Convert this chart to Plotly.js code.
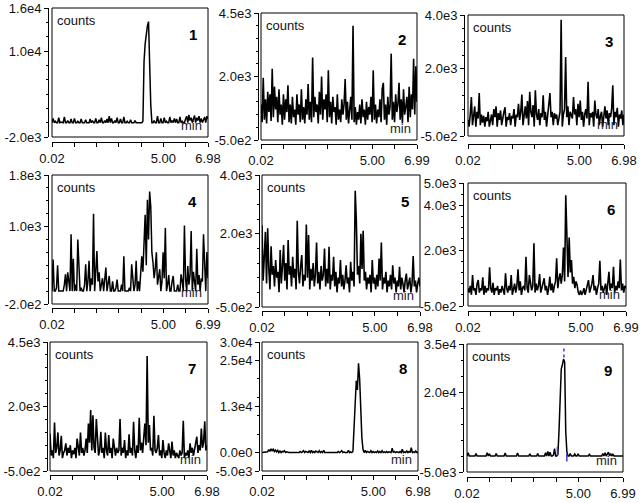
<!DOCTYPE html>
<html><head><meta charset="utf-8">
<script src="https://cdn.plot.ly/plotly-3.0.1.min.js"></script>
<style>html,body{margin:0;padding:0;background:#fff}#chart{width:642px;height:503px}</style>
</head><body><div id="chart"></div>
<script>
const W = 642, H = 503;
const xStart = 0.02;
const panelNames = ["1","2","3","4","5","6","7","8","9"];
const xEnds = [6.98, 6.99, 6.98, 6.99, 6.98, 6.99, 6.98, 6.98, 6.99];
const xEndLabels = ["6.98","6.99","6.98","6.99","6.98","6.99","6.98","6.98","6.99"];
const yRanges = [[-2000,16000],[-500,4500],[-500,4000],[-200,1800],[-500,4000],[-500,5000],[-500,4500],[-5000,30000],[-5000,35000]];
const yTickVals = [[16000,10000,-2000],[4500,2000,-500],[4000,2000,-500],[1800,1000,-200],[4000,2000,-500],[5000,4000,2000,-500],[4500,2000,-500],[30000,25000,12500,0,-5000],[35000,20000,-5000]];
const yTickText = [["1.6e4","1.0e4","-2.0e3"],["4.5e3","2.0e3","-5.0e2"],["4.0e3","2.0e3","-5.0e2"],["1.8e3","1.0e3","-2.0e2"],["4.0e3","2.0e3","-5.0e2"],["5.0e3","4.0e3","2.0e3","-5.0e2"],["4.5e3","2.0e3","-5.0e2"],["3.0e4","2.5e4","1.3e4","0.0e0","-5.0e3"],["3.5e4","2.0e4","-5.0e3"]];

// counts, one value per sampled time
const p1 = [0,600,0,200,0,0,700,0,100,0, 0,800,0,0,300,0,0,500,0,0, 600,0,0,200,0,0,500,0,0,0, 400,0,0,0,500,0,300,0,0,600, 0,0,400,0,700,0,0,300,0,500,
  0,900,0,600,0,0,300,0,700,0, 0,500,0,0,800,0,0,200,0,0, 400,0,0,0,300,0,0,0,0,0, 0,200,8500,11000,12800,13500,14100,6000,2500,0, 0,300,0,0,900,0,0,600,0,0,
  700,0,200,0,0,800,0,300,0,600, 0,500,0,0,800,0,200,0,0,500, 900,0,1100,300,700,0,600,1000,0,700, 300,900,0,600,0,400,800,0,900,500];
const p2 = [900,200,1950,300,1100,150,1400,600,1300,250, 2300,400,1600,700,1200,200,1500,500,900,100, 1300,300,1100,600,1650,200,900,150,1200,400, 700,100,1300,500,900,200,1500,300,800,150, 1100,500,1700,300,1000,200,2750,400,1200,600,
  900,150,1400,500,2000,300,1100,700,1300,200, 2250,400,1000,150,1200,600,800,100,1300,300, 700,200,1100,500,900,1900,300,1000,150,600, 1200,300,4000,200,800,100,600,300,900,150, 1100,400,700,100,1000,300,800,500,1200,200,
  2250,300,900,150,700,400,1100,200,1500,1750, 300,900,100,1200,500,800,2900,300,1000,200, 1300,600,900,1750,300,1100,150,1500,500,800, 1200,200,1600,400,1300,700,2700,500,2400,1000];
const p3 = [100,-150,300,950,-100,200,600,-150,400,150, 1100,-100,300,0,250,-150,200,50,400,-150, 150,300,-100,500,200,600,-150,350,100,450, -100,250,400,570,-150,200,100,350,-100,250, 150,500,-150,300,200,700,100,400,1040,-100,
  300,600,150,800,-100,1140,400,200,650,-150, 1200,300,100,500,-100,350,200,1010,100,400, -150,250,500,1100,200,400,-100,350,150,300, -100,200,400,3820,-150,300,500,2440,200,600, -100,400,250,150,950,300,500,-100,700,200,
  820,100,400,-150,300,500,150,1520,-100,350, 200,400,-150,820,300,150,500,-100,250,400, -150,300,600,150,450,-100,350,200,500,1390, -100,400,200,550,-150,300,150,450,-100,300];
const p4 = [0,490,0,0,50,400,0,0,0,0, 0,100,260,0,290,150,0,880,0,500, 0,100,0,800,440,0,50,0,0,100, 415,0,150,470,0,200,100,1200,0,250, 620,150,290,0,100,200,0,150,365,0,
  100,235,0,0,150,0,0,50,180,0, 0,0,100,0,540,0,0,0,0,50, 0,415,200,0,100,470,0,150,0,250, 540,300,700,1185,400,1415,800,1545,1310,600, 440,200,350,600,100,250,340,0,150,600,
  200,980,0,100,250,0,0,150,235,0, 0,0,100,0,0,260,150,0,1015,200, 0,390,100,250,930,0,300,150,0,655, 100,250,0,200,150,880,300,0,605,200];
const p5 = [2290,400,1200,2060,300,2180,800,100,1570,600, 900,200,1100,500,700,0,1440,300,900,1610, 400,1000,100,1780,600,900,200,1210,500,800, 100,2440,700,300,900,1270,200,600,400,2310, 500,1950,100,800,400,1000,200,600,1700,300,
  700,100,900,400,600,1490,200,800,300,1550, 100,600,400,1210,200,700,0,500,300,1100, 200,600,100,400,925,300,500,0,1040,400, 700,200,3465,2430,600,900,300,2000,800,2100, 400,700,100,500,300,600,0,1100,300,500,
  100,600,200,1150,400,1700,100,500,300,700, 0,400,200,600,100,925,300,500,0,400, 200,870,100,500,300,0,400,640,100,300, 500,0,300,1240,200,400,0,300,500,200];
const p6 = [300,100,400,0,880,200,300,0,500,660, 100,300,200,780,0,400,100,300,200,1230, 300,100,540,0,300,200,400,0,250,100, 400,200,0,960,300,100,400,200,880,0, 300,500,100,400,1140,200,600,0,300,400,
  200,1700,300,100,880,500,200,400,2300,100, 500,200,400,930,100,300,500,740,200,400, 0,300,810,200,500,100,400,600,1630,300, 700,960,500,900,2120,600,4450,2440,800,2560, 1000,1550,500,800,300,600,440,100,0,200,
  0,100,300,0,200,400,660,100,300,500, 880,200,400,0,300,500,1520,200,400,100, 300,500,0,400,1030,200,500,300,1250,100, 400,200,600,300,1580,200,500,100,400,300];
const p7 = [955,100,300,0,1380,200,400,995,100,300, 865,0,200,300,570,100,400,200,500,0, 300,150,400,0,760,300,100,995,200,400, 100,300,760,200,1340,600,1860,300,1660,400, 200,1510,500,100,300,1020,200,400,0,995,
  300,100,890,200,400,0,760,300,100,400, 200,300,1510,100,400,200,700,0,300,100, 920,200,400,100,1410,300,0,500,200,1560, 300,600,200,800,1340,500,3960,600,1280,300, 400,100,1640,300,200,400,890,100,300,0,
  700,200,0,300,100,570,200,0,640,100, 300,0,200,100,0,300,100,200,1450,0, 200,100,300,0,570,200,400,100,300,600, 830,200,500,300,1150,400,600,1430,300,500];
const p8 = [0,0,0,0,0,200,800,300,1000,500, 900,300,700,200,600,0,400,0,300,200, 500,0,200,0,0,0,0,0,0,0, 0,0,0,0,300,0,200,500,0,300, 200,0,400,0,600,0,300,0,400,200,
  0,500,0,300,0,600,0,0,0,0, 0,0,0,0,0,0,0,0,300,0, 200,500,0,200,0,0,0,600,0,200, 0,300,6000,15000,19500,17000,24200,20000,11000,4000, 800,0,600,0,300,200,0,500,0,300,
  0,200,0,400,0,300,0,500,0,200, 0,300,0,200,0,0,1200,0,300,0, 200,0,0,300,0,900,0,200,0,400, 0,300,0,1300,0,200,0,400,0,0];
const p9 = [0,1000,0,0,0,0,0,0,800,0, 0,0,0,0,0,0,0,0,1000,0, 700,0,0,0,0,0,800,0,0,0, 0,0,0,0,900,0,0,0,0,0, 0,0,0,0,0,900,0,0,0,0,
  0,0,0,0,0,0,700,0,0,0, 0,0,0,800,0,0,0,0,0,0, 1000,0,1400,0,1200,0,0,300,2300,0, 0,500,8000,19900,27200,28500,30300,29300,7500,1300, 0,0,800,0,0,0,600,0,0,700,
  0,0,0,0,0,0,0,0,0,500, 0,0,0,0,0,0,0,0,0,0, 0,800,0,1000,0,600,1200,0,800,0, 500,0,0,0,0,0,0,0,0,0];
const series = [p1,p2,p3,p4,p5,p6,p7,p8,p9];

// integration markers of panel 9 (time, low count, high count)
const p9MarkT = [4.06, 4.48];
const p9MarkLo = [200, -1700];
const p9MarkHi = [2800, 700];
const p9ApexT = [4.35, 4.35];
const p9ApexY = [30800, 34000];

// geometry in pixels: frame left/right/top/bottom, y-axis line x, x-axis line y
const geo = [
  {L:52, R:208, T:8,   B:137, ax:48,  ay:142},
  {L:261,R:417, T:13,  B:140, ax:258, ay:144},
  {L:468,R:624, T:15,  B:136, ax:464, ay:144},
  {L:52, R:208, T:175, B:304, ax:48,  ay:308},
  {L:262,R:420, T:175, B:307, ax:259, ay:311},
  {L:468,R:626, T:183, B:306, ax:463, ay:311},
  {L:50, R:207, T:342, B:471, ax:47,  ay:475},
  {L:262,R:418, T:342, B:471, ax:259, ay:475},
  {L:467,R:623, T:344, B:472, ax:463, ay:477}
];
const minorDt = [2000,500,500,200,500,500,500,5000,5000];
const lineW = [1.5,1.6,1.6,1.5,1.6,1.6,1.6,1.5,1.5];

const font = 'Liberation Sans, Arial, sans-serif';
const traces = [];
const layout = {width:W, height:H, margin:{l:0,r:0,t:0,b:0}, paper_bgcolor:'#fff', plot_bgcolor:'#fff', showlegend:false, shapes:[], annotations:[]};

series.forEach((ys, i) => {
  const k = i === 0 ? '' : String(i+1);
  const g = geo[i];
  const xEnd = xEnds[i];
  const tv = [];
  for (let j = 0; j <= 7; j++) tv.push(xStart + j*(xEnd - xStart)/7);
  const tt = ["0.02","","","","","5.00","",xEndLabels[i]];
  traces.push({type:'scatter', mode:'lines', y: ys, x0: xStart, dx: (xEnd - xStart)/(ys.length-1),
    xaxis:'x'+k, yaxis:'y'+k, line:{color:'#000', width:lineW[i]}, hoverinfo:'skip'});
  layout['xaxis'+k] = {domain:[g.L/W, g.R/W], range:[xStart, xEnd], anchor:'free', position:1-g.ay/H,
    showline:true, linecolor:'#000', linewidth:1, ticks:'outside', ticklen:4, tickcolor:'#000',
    tickmode:'array', tickvals:tv, ticktext:tt, showgrid:false, zeroline:false, fixedrange:true,
    tickfont:{family:font, size:13, color:'#111'}};
  layout['yaxis'+k] = {domain:[1-g.B/H, 1-g.T/H], range:yRanges[i], anchor:'free', position:g.ax/W,
    showline:true, linecolor:'#000', linewidth:1, ticks:'outside', ticklen:4, tickcolor:'#000',
    tickmode:'array', tickvals:yTickVals[i], ticktext:yTickText[i], showgrid:false, zeroline:false, fixedrange:true,
    tickfont:{family:font, size:13, color:'#111'},
    minor:{tickmode:'linear', tick0:yRanges[i][0], dtick:minorDt[i], ticks:'outside', ticklen:2, tickcolor:'#000', showgrid:false}};
  layout.shapes.push({type:'rect', xref:'x'+k+' domain', yref:'y'+k+' domain', x0:0, x1:1, y0:0, y1:1, line:{color:'#000', width:1}});
  layout.annotations.push({xref:'x'+k+' domain', yref:'y'+k+' domain', x:0, y:1, xanchor:'left', yanchor:'top', xshift:3, yshift:-3,
    text:'counts', showarrow:false, font:{family:font, size:13, color:'#111'}});
  layout.annotations.push({xref:'x'+k+' domain', yref:'y'+k+' domain', x:1, y:1, xanchor:'right', yanchor:'top', xshift:-9, yshift:-16,
    text:'<b>'+panelNames[i]+'</b>', showarrow:false, font:{family:font, size:15, color:'#000'}});
  layout.annotations.push({xref:'x'+k+' domain', yref:'y'+k+' domain', x:1, y:0, xanchor:'right', yanchor:'middle', xshift:-4, yshift:12,
    text:'min', showarrow:false, font:{family:font, size:13, color:'#222'}});
});

traces.push({type:'scatter', mode:'lines', x:[p9MarkT[0],p9MarkT[0],null,p9MarkT[1],p9MarkT[1]], y:[p9MarkLo[0],p9MarkHi[0],null,p9MarkLo[1],p9MarkHi[1]],
  xaxis:'x9', yaxis:'y9', line:{color:'#3b3bd6', width:1.5}, hoverinfo:'skip', connectgaps:false});
traces.push({type:'scatter', mode:'lines', x:p9ApexT, y:p9ApexY, xaxis:'x9', yaxis:'y9', line:{color:'#3b3bd6', width:1.5, dash:'dot'}, hoverinfo:'skip'});

Plotly.newPlot('chart', traces, layout, {staticPlot:true, displayModeBar:false});
</script></body></html>
